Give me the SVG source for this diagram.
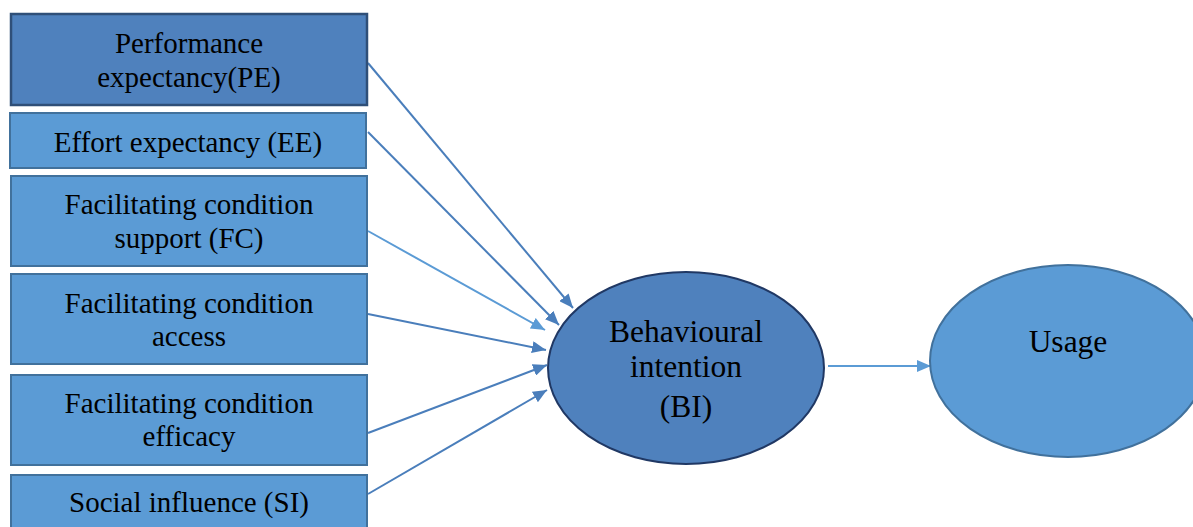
<svg xmlns="http://www.w3.org/2000/svg" width="1193" height="527" viewBox="0 0 1193 527">
<style>
.t{font-family:"Liberation Serif","Times New Roman",serif;font-size:29px;fill:#000;text-anchor:middle}
.b{font-size:31.5px}
.box{fill:#5b9bd5;stroke:#41719c;stroke-width:2}
.dark{fill:#4f81bd;stroke:#2f4f78;stroke-width:2.5}
.c{stroke:#4a7ebb;stroke-width:2;fill:none;marker-end:url(#ah)}
.cl{stroke:#5b9bd5;stroke-width:2;fill:none;marker-end:url(#ahl)}
</style>
<defs>
<marker id="ah" viewBox="0 0 14 12" refX="14" refY="6" markerWidth="14" markerHeight="12" markerUnits="userSpaceOnUse" orient="auto"><path d="M0,0 L14,6 L0,12 z" fill="#4a7ebb"/></marker>
<marker id="ahl" viewBox="0 0 14 12" refX="14" refY="6" markerWidth="14" markerHeight="12" markerUnits="userSpaceOnUse" orient="auto"><path d="M0,0 L14,6 L0,12 z" fill="#5b9bd5"/></marker>
</defs>
<rect width="1193" height="527" fill="#fff"/>
<g id="connectors">
<line class="c" x1="368" y1="63" x2="573" y2="308"/>
<line class="c" x1="368" y1="132" x2="559" y2="325"/>
<line class="cl" x1="368" y1="231" x2="545" y2="330"/>
<line class="c" x1="368" y1="314" x2="546" y2="350"/>
<line class="c" x1="368" y1="433" x2="547" y2="365"/>
<line class="c" x1="368" y1="494" x2="547" y2="390"/>
<line class="cl" x1="828" y1="366" x2="931" y2="366"/>
</g>
<g id="pe"><rect class="dark" x="11" y="14" width="356" height="91"/><text class="t" x="189" y="53">Performance</text><text class="t" x="189" y="87">expectancy(PE)</text></g>
<g id="ee"><rect class="box" x="10" y="113" width="356" height="55"/><text class="t" x="188" y="152">Effort expectancy (EE)</text></g>
<g id="fcs"><rect class="box" x="11" y="176" width="356" height="90"/><text class="t" x="189" y="214">Facilitating condition</text><text class="t" x="189" y="248">support (FC)</text></g>
<g id="fca"><rect class="box" x="11" y="274" width="356" height="90"/><text class="t" x="189" y="313">Facilitating condition</text><text class="t" x="189" y="346">access</text></g>
<g id="fce"><rect class="box" x="11" y="375" width="356" height="90"/><text class="t" x="189" y="413">Facilitating condition</text><text class="t" x="189" y="446">efficacy</text></g>
<g id="si"><rect class="box" x="11" y="475" width="356" height="60"/><text class="t" x="189" y="512">Social influence (SI)</text></g>
<g id="bi"><ellipse cx="686" cy="368" rx="138" ry="96" fill="#4f81bd" stroke="#203864" stroke-width="2"/><text class="t b" x="686" y="342">Behavioural</text><text class="t b" x="686" y="377">intention</text><text class="t b" x="686" y="417">(BI)</text></g>
<g id="usage"><ellipse cx="1068" cy="361" rx="138" ry="96" fill="#5b9bd5" stroke="#41719c" stroke-width="2"/><text class="t b" x="1068" y="352">Usage</text></g>
</svg>
